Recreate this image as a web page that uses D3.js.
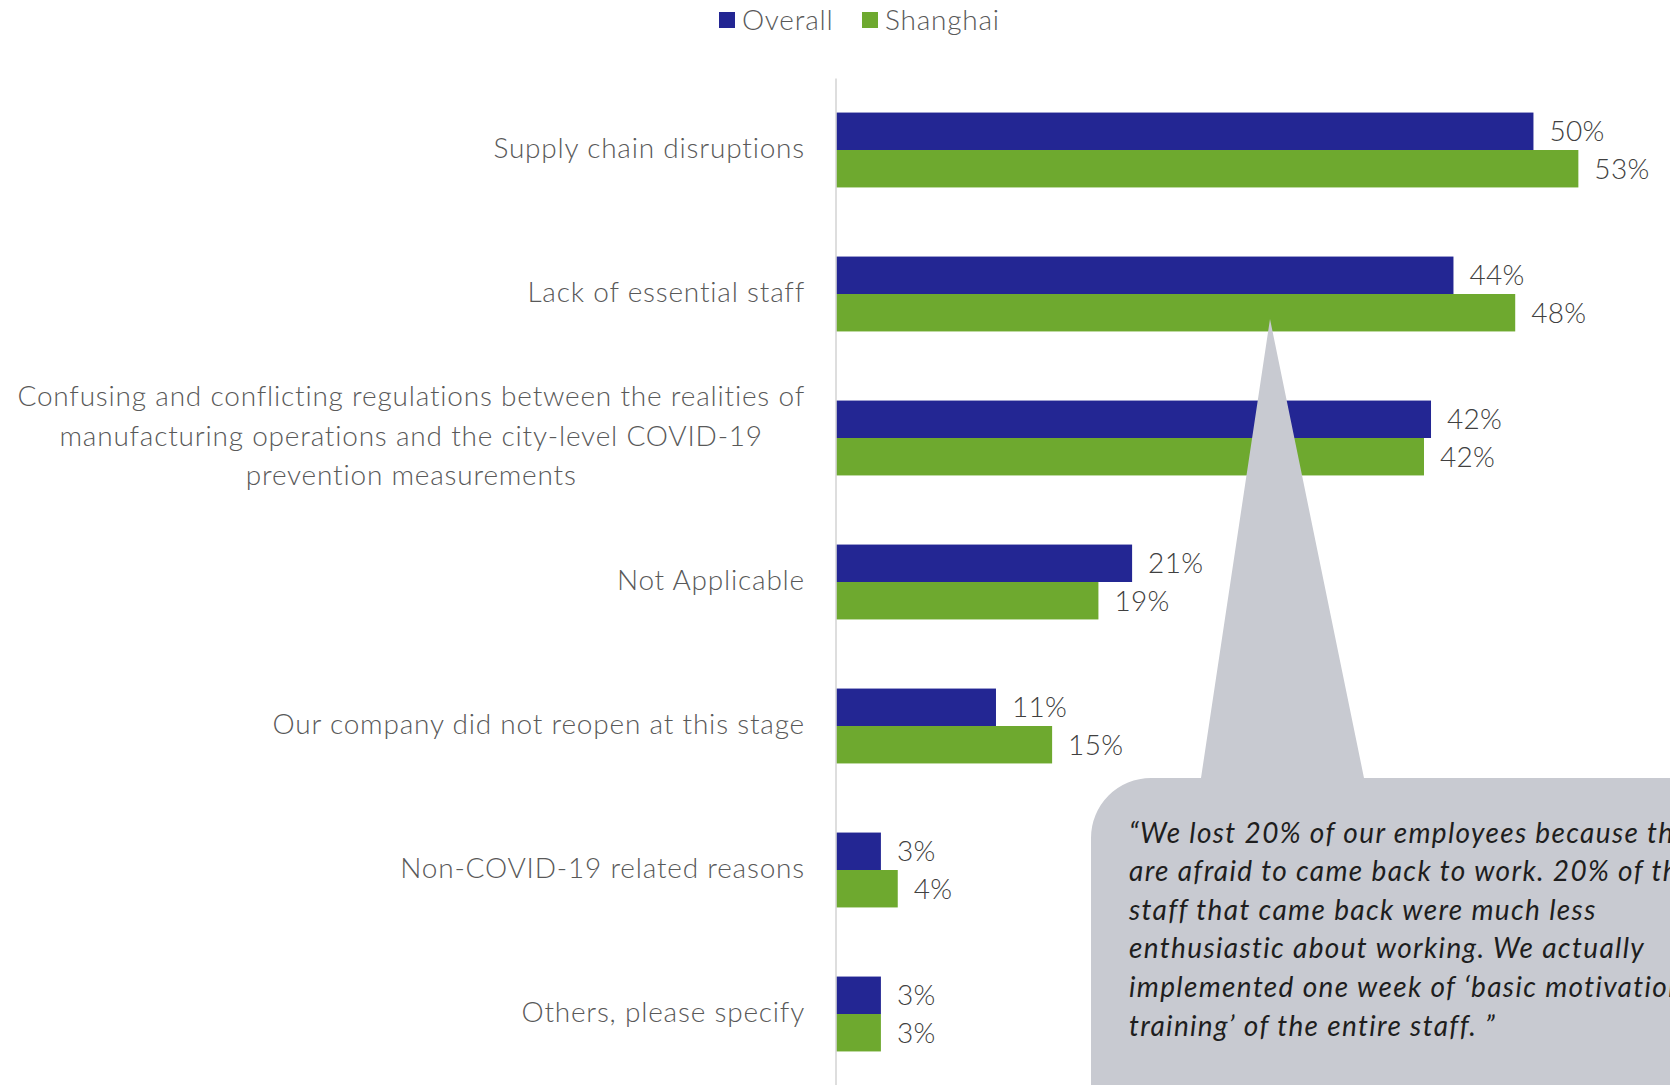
<!DOCTYPE html>
<html>
<head>
<meta charset="utf-8">
<script src="https://cdn.jsdelivr.net/npm/d3@7"></script>
<style>
  body { margin: 0; background: #fff; }
  svg { display: block; font-family: Lato, "Open Sans", sans-serif; }
</style>
</head>
<body>
<svg id="chart" width="1670" height="1085"></svg>
<script>
// data
let categories = [
    "Supply chain disruptions",
    "Lack of essential staff",
    "Confusing and conflicting regulations between the realities of|manufacturing operations and the city-level COVID-19|prevention measurements",
    "Not Applicable",
    "Our company did not reopen at this stage",
    "Non-COVID-19 related reasons",
    "Others, please specify"
];
let seriesNames = ["Overall", "Shanghai"];
let overall = [49.7, 44.0, 42.4, 21.1, 11.4, 3.2, 3.2];
let shanghai = [52.9, 48.4, 41.9, 18.7, 15.4, 4.4, 3.2];
let quoteLines = [
    "\u201CWe lost 20% of our employees because they",
    "are afraid to came back to work. 20% of the",
    "staff that came back were much less",
    "enthusiastic about working. We actually",
    "implemented one week of \u2018basic motivation",
    "training\u2019 of the entire staff. \u201D"
];

let colors = {Overall: "#232693", Shanghai: "#6EA92F"};
let svg = d3.select("#chart");

let x = d3.scaleLinear().domain([0, 60]).range([836, 1678]);
let y = d3.scaleBand().domain(categories).range([78, 1086])
    .paddingInner(0.48).paddingOuter(0.24);
let y1 = d3.scaleBand().domain(seriesNames).range([0, y.bandwidth()]);

let rows = categories.map(function (c, i) {
    return {cat: c, values: [
        {name: "Overall", v: overall[i]},
        {name: "Shanghai", v: shanghai[i]}
    ]};
});

//bars
let groups = svg.append("g").selectAll("g")
    .data(rows)
    .enter().append("g")
    .attr("transform", d => `translate(0,${y(d.cat)})`);

groups.selectAll("rect")
    .data(d => d.values)
    .enter().append("rect")
    .attr("x", x(0))
    .attr("y", d => y1(d.name))
    .attr("width", d => x(d.v) - x(0))
    .attr("height", y1.bandwidth())
    .attr("fill", d => colors[d.name]);

groups.selectAll("text")
    .data(d => d.values)
    .enter().append("text")
    .attr("x", d => x(d.v) + 16)
    .attr("y", d => y1(d.name) + y1.bandwidth() / 2)
    .attr("dy", "0.36em")
    .attr("fill", "#404040")
    .style("font-size", "28px")
    .style("font-weight", 300)
    .style("letter-spacing", "0.3px")
    .text(d => `${Math.round(d.v)}%`);

//axis line + category labels
let axis = d3.axisLeft(y).tickSize(0).tickSizeOuter(0).tickFormat("");
let ax = svg.append("g")
    .attr("transform", `translate(${x(0) - 0.5},0)`)
    .call(axis);
ax.select(".domain").attr("stroke", "#D6D6D6").attr("stroke-width", 1.6);

let labelRight = 805;
categories.forEach(function (c) {
    let lines = c.split("|");
    let t = svg.append("text")
        .attr("fill", "#595959")
        .style("font-size", "28px")
        .style("font-weight", 300)
        .style("letter-spacing", "0.8px");
    let cy = y(c) + y.bandwidth() / 2 - 2.5;
    if (lines.length === 1) {
        t.attr("x", labelRight).attr("y", cy).attr("dy", "0.36em")
            .attr("text-anchor", "end").text(c);
    } else {
        let lh = 39.5;
        t.attr("text-anchor", "middle");
        let spans = t.selectAll("tspan").data(lines).enter().append("tspan")
            .attr("y", (d, i) => cy + (i - (lines.length - 1) / 2) * lh)
            .attr("dy", "0.36em")
            .text(d => d);
        let w = d3.max(spans.nodes(), n => n.getComputedTextLength());
        spans.attr("x", labelRight - w / 2);
    }
});

//legend
let legend = svg.append("g").selectAll("g")
    .data(seriesNames)
    .enter().append("g")
    .attr("transform", (d, i) => `translate(${[719, 862][i]},12)`);
legend.append("rect").attr("width", 16).attr("height", 16).attr("fill", d => colors[d]);
legend.append("text").attr("x", 23).attr("y", 8).attr("dy", "0.36em")
    .attr("fill", "#595959").style("font-size", "28px").style("font-weight", 300)
    .style("letter-spacing", "0.8px")
    .text(d => d);

//callout bubble
let bx = 1091, by = 778, r = 60;
let callout = d3.path();
callout.moveTo(bx, 1100);
callout.lineTo(bx, by + r);
callout.arcTo(bx, by, bx + r, by, r);
callout.lineTo(1201, by);
callout.lineTo(1270, 319);
callout.lineTo(1364, by);
callout.lineTo(1700, by);
callout.lineTo(1700, 1100);
callout.closePath();
svg.append("path").attr("d", callout.toString()).attr("fill", "#C8CAD1");

svg.append("g").selectAll("text")
    .data(quoteLines)
    .enter().append("text")
    .attr("x", 1129)
    .attr("y", (d, i) => 832.5 + i * 38.6)
    .attr("dy", "0.36em")
    .attr("fill", "#1E1E1E")
    .style("font-size", "28px")
    .style("font-style", "italic")
    .style("font-weight", 400)
    .style("letter-spacing", "1.35px")
    .text(d => d);
</script>
</body>
</html>
